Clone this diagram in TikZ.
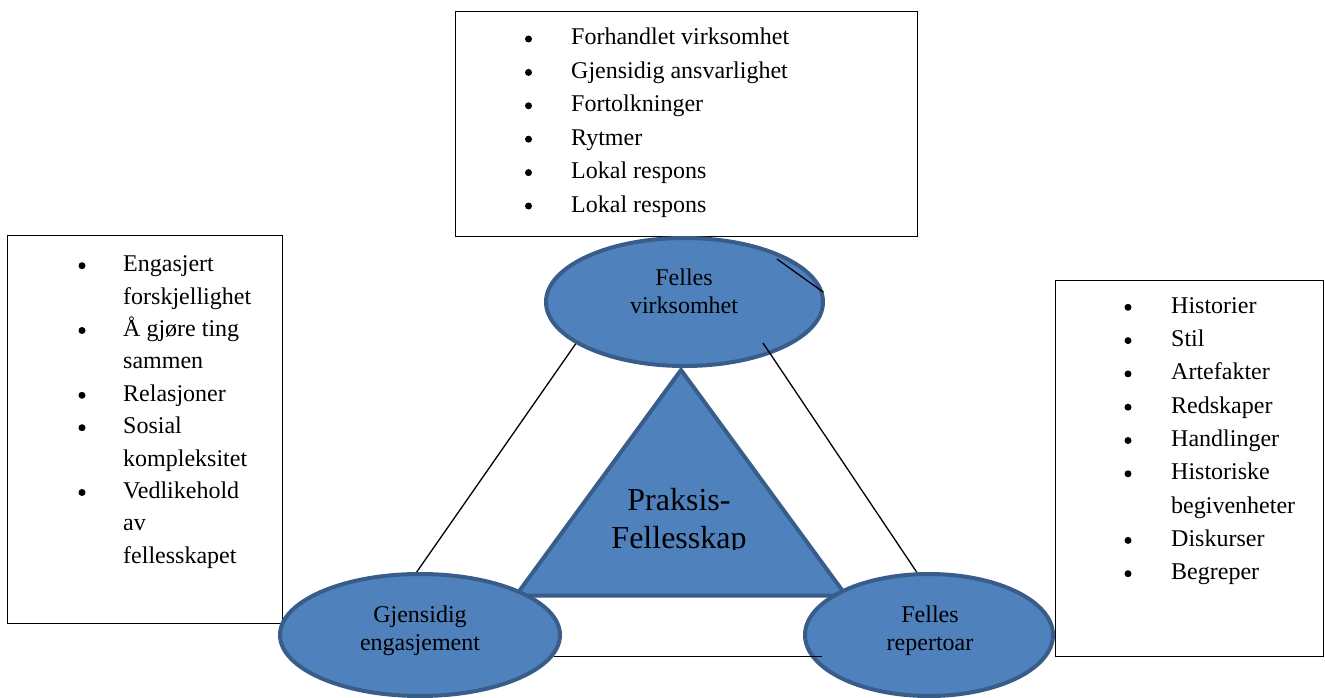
\documentclass[tikz,border=0pt]{standalone}
\usepackage{fontspec}
\setmainfont{Liberation Serif}
\usetikzlibrary{shapes.geometric}
\definecolor{shapefill}{HTML}{4F81BD}
\definecolor{shapeline}{HTML}{385D8A}
\begin{document}
\begin{tikzpicture}[x=1pt,y=-1pt,
  listbox/.style={draw=black,line width=1pt,fill=white,anchor=north west,inner sep=0pt},
  oval/.style={ellipse,draw=shapeline,fill=shapefill,line width=4pt,inner sep=0pt},
  tri/.style={draw=shapeline,fill=shapefill,line width=4pt},
  conn/.style={draw=black,line width=1.3pt},
  lst/.style={anchor=base west,inner sep=0pt,font=\fontsize{24}{28}\selectfont},
  bul/.style={circle,fill=black,inner sep=0pt,minimum size=7pt,yshift=6pt},
  ovtxt/.style={anchor=base,inner sep=0pt,font=\fontsize{24}{28}\selectfont},
  bigtxt/.style={anchor=base,inner sep=0pt,font=\fontsize{32}{38}\selectfont}]
\useasboundingbox (0,0) rectangle (1325,698);
\fill[white] (0,0) rectangle (1325,698);

% boxes
\node (topbox) [listbox,minimum width=462pt,minimum height=225pt] at (455,11) {};
\node (leftbox) [listbox,minimum width=275pt,minimum height=388pt] at (7,235) {};
\node (rightbox) [listbox,minimum width=268pt,minimum height=376pt] at (1055,280) {};

% top list
\node (tb1) [bul] at (528.5,45) {};   \node (tt1) [lst] at (571,45) {Forhandlet virksomhet};
\node (tb2) [bul] at (528.5,78.4) {}; \node (tt2) [lst] at (571,78.4) {Gjensidig ansvarlighet};
\node (tb3) [bul] at (528.5,111.8) {};\node (tt3) [lst] at (571,111.8) {Fortolkninger};
\node (tb4) [bul] at (528.5,145.2) {};\node (tt4) [lst] at (571,145.2) {Rytmer};
\node (tb5) [bul] at (528.5,178.6) {};\node (tt5) [lst] at (571,178.6) {Lokal respons};
\node (tb6) [bul] at (528.5,212) {};  \node (tt6) [lst] at (571,212) {Lokal respons};

% left list
\node (lb1) [bul] at (82,271.7) {}; \node (lt1) [lst] at (123,271.7) {Engasjert};
\node (lt2) [lst] at (123,304.1) {forskjellighet};
\node (lb3) [bul] at (82,336.5) {}; \node (lt3) [lst] at (123,336.5) {Å gjøre ting};
\node (lt4) [lst] at (123,368.9) {sammen};
\node (lb5) [bul] at (82,401.3) {}; \node (lt5) [lst] at (123,401.3) {Relasjoner};
\node (lb6) [bul] at (82,433.7) {}; \node (lt6) [lst] at (123,433.7) {Sosial};
\node (lt7) [lst] at (123,466.1) {kompleksitet};
\node (lb8) [bul] at (82,498.5) {}; \node (lt8) [lst] at (123,498.5) {Vedlikehold};
\node (lt9) [lst] at (123,530.9) {av};
\node (lt10) [lst] at (123,563.3) {fellesskapet};

% right list
\node (rb1) [bul] at (1128,313.3) {}; \node (rt1) [lst] at (1171,313.3) {Historier};
\node (rb2) [bul] at (1128,346.6) {}; \node (rt2) [lst] at (1171,346.6) {Stil};
\node (rb3) [bul] at (1128,379.9) {}; \node (rt3) [lst] at (1171,379.9) {Artefakter};
\node (rb4) [bul] at (1128,413.2) {}; \node (rt4) [lst] at (1171,413.2) {Redskaper};
\node (rb5) [bul] at (1128,446.5) {}; \node (rt5) [lst] at (1171,446.5) {Handlinger};
\node (rb6) [bul] at (1128,479.8) {}; \node (rt6) [lst] at (1171,479.8) {Historiske};
\node (rt7) [lst] at (1171,513.1) {begivenheter};
\node (rb8) [bul] at (1128,546.4) {}; \node (rt8) [lst] at (1171,546.4) {Diskurser};
\node (rb9) [bul] at (1128,579.7) {}; \node (rt9) [lst] at (1171,579.7) {Begreper};

% shapes
\node (fv) [oval,minimum width=277pt,minimum height=128pt] at (684.5,302) {};
\draw[tri] (681,370) -- (846,595.5) -- (516,595.5) -- cycle;
\node (ge) [oval,minimum width=280pt,minimum height=122pt] at (420,635) {};
\node (fr) [oval,minimum width=248pt,minimum height=122pt] at (929,635) {};

% connectors
\coordinate (c1) at (777,259);
\coordinate (c2) at (763,343);
\coordinate (c3) at (822,657);
\draw[conn] (fv.201) -- (ge.93);
\draw[conn] (c2) -- (fr.101);
\draw[conn] (ge.-9) -- (ge.-9 -| c3);
\draw[conn] (c1) -- (fv.4);

% texts in shapes
\node (fv1) [ovtxt] at (684,285) {Felles};
\node (fv2) [ovtxt] at (684,313) {virksomhet};
\node (ge1) [ovtxt] at (420,622.7) {Gjensidig};
\node (ge2) [ovtxt] at (420,650) {engasjement};
\node (fr1) [ovtxt] at (930,622.7) {Felles};
\node (fr2) [ovtxt] at (930,650) {repertoar};
\begin{scope}
\clip (500,380) rectangle (860,549);
\node (pf1) [bigtxt] at (679,510) {Praksis-};
\node (pf2) [bigtxt] at (679,548) {Fellesskap};
\end{scope}
\end{tikzpicture}
\end{document}
